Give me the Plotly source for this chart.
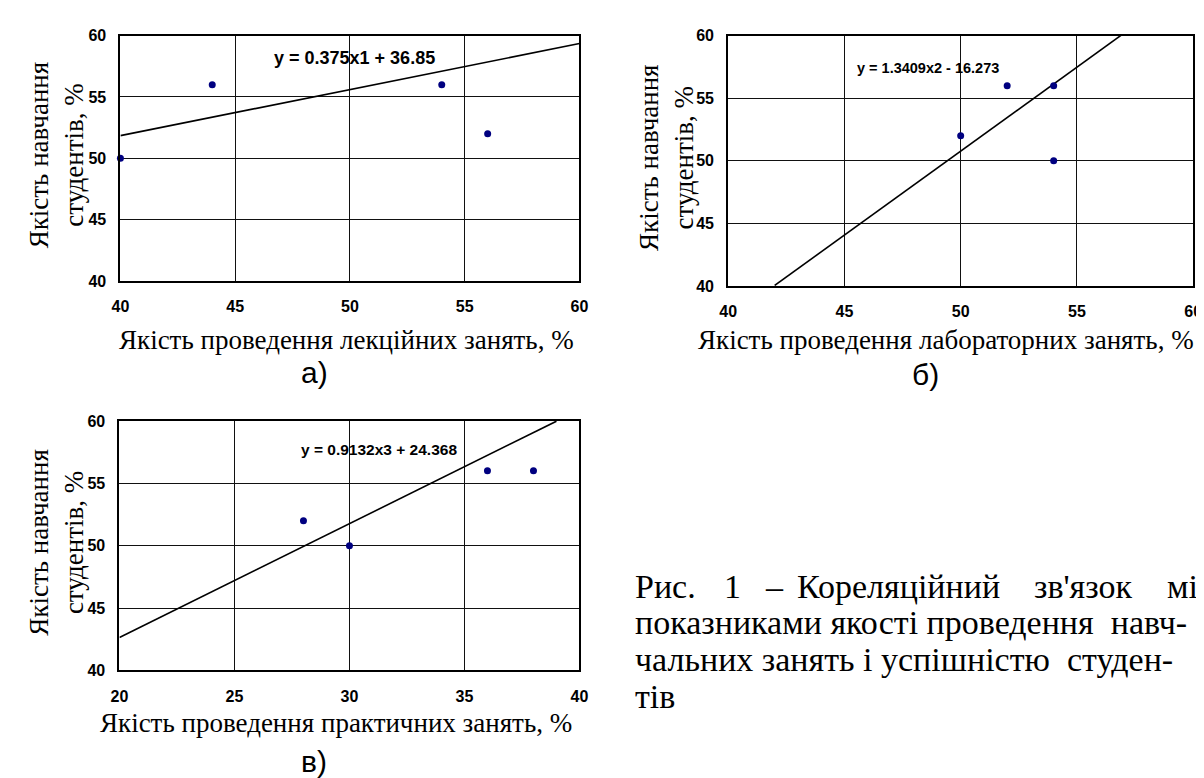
import plotly.graph_objects as go

W, H = 1204, 778

# ---- data ----
lect_x = [40, 44, 54, 56]
lect_y = [50, 56, 56, 52]
lab_x = [50, 52, 54, 54]
lab_y = [52, 56, 56, 50]
prac_x = [28, 30, 36, 38]
prac_y = [52, 50, 56, 56]

# trend lines (as printed on the chart)
lect_slope, lect_icpt = 0.375, 36.85
lab_slope, lab_icpt = 1.3409, -16.273
prac_slope, prac_icpt = 0.9132, 24.368
lect_line_x = [40, 60]
lab_line_x = [42, 57]
prac_line_x = [20, 39]

eq_a = "y = 0.375x1 + 36.85"
eq_b = "y = 1.3409x2 - 16.273"
eq_c = "y = 0.9132x3 + 24.368"

ytitle = "Якість навчання<br>студентів, %"
xtitle_a = "Якість проведення лекційних занять, %"
xtitle_b = "Якість проведення лабораторних занять, %"
xtitle_c = "Якість проведення практичних занять, %"

# caption: first (justified) line word by word, the rest line by line
caption_first_words = ["Рис.", "1", "–", "Кореляційний", "зв'язок", "між"]
caption_first_x = [625, 716, 757, 790, 1030, 1165]
caption_rest = [
    "показниками якості проведення  навч-",
    "чальних занять і успішністю  студен-",
    "тів",
]
caption_line_y = [583, 620.5, 658, 695.5]


def px(x):
    return x / W


def py(y):
    return 1 - y / H


fig = go.Figure()

panels = [
    dict(xs=lect_x, ys=lect_y, s=lect_slope, b=lect_icpt, lx=lect_line_x, ax="", xr=[40, 60],
         dom_x=[105, 571], dom_y=[20, 271], eq=eq_a, eqpos=(50.2, 58.2), eqsize=18,
         xt=xtitle_a, xt_pos=(335, 331), lab="а)", lab_pos=(302, 364), yt_pos=(40, 142)),
    dict(xs=lab_x, ys=lab_y, s=lab_slope, b=lab_icpt, lx=lab_line_x, ax="2", xr=[40, 60],
         dom_x=[722, 1194], dom_y=[20, 276], eq=eq_b, eqpos=(48.6, 57.4), eqsize=14.5,
         xt=xtitle_b, xt_pos=(943, 331), lab="б)", lab_pos=(922, 366), yt_pos=(660, 145)),
    dict(xs=prac_x, ys=prac_y, s=prac_slope, b=prac_icpt, lx=prac_line_x, ax="3", xr=[20, 40],
         dom_x=[104, 571], dom_y=[414, 669], eq=eq_c, eqpos=(31.3, 57.7), eqsize=15.5,
         xt=xtitle_c, xt_pos=(324, 723), lab="в)", lab_pos=(302, 762), yt_pos=(40, 538)),
]

tickfont = dict(family="Arial, Liberation Sans", size=16, color="black", weight="bold")
serif = "Times New Roman, Liberation Serif"
sans = "Arial, Liberation Sans"
cap_font = dict(family=serif, size=34, color="black")

for p in panels:
    ax = p["ax"]
    xa, ya = "x" + ax, "y" + ax
    ly = [p["s"] * v + p["b"] for v in p["lx"]]
    fig.add_trace(go.Scatter(x=p["lx"], y=ly, mode="lines", line=dict(color="black", width=1.6),
                             xaxis=xa, yaxis=ya, showlegend=False, hoverinfo="skip"))
    fig.add_trace(go.Scatter(x=p["xs"], y=p["ys"], mode="markers",
                             marker=dict(color="#000080", size=7),
                             xaxis=xa, yaxis=ya, showlegend=False, cliponaxis=False))
    axis_common = dict(showline=True, mirror=True, linecolor="black", linewidth=2,
                       showgrid=True, gridcolor="#111111", gridwidth=1, zeroline=False,
                       ticks="", tickfont=tickfont, dtick=5)
    fig.update_layout(**{
        "xaxis" + ax: dict(domain=[px(p["dom_x"][0]), px(p["dom_x"][1])], range=p["xr"],
                           anchor=ya, ticklabelstandoff=10, **axis_common),
        "yaxis" + ax: dict(domain=[py(p["dom_y"][1]), py(p["dom_y"][0])], range=[40, 60],
                           anchor=xa, ticklabelstandoff=9, **axis_common),
    })
    fig.add_annotation(x=p["eqpos"][0], y=p["eqpos"][1], xref=xa, yref=ya, text=p["eq"],
                       showarrow=False, xanchor="center", yanchor="middle",
                       font=dict(family=sans, size=p["eqsize"], color="black", weight="bold"))
    fig.add_annotation(x=px(p["xt_pos"][0]), y=py(p["xt_pos"][1]), xref="paper", yref="paper",
                       text=p["xt"], showarrow=False, xanchor="center", yanchor="middle",
                       font=dict(family=serif, size=27, color="black"))
    fig.add_annotation(x=px(p["lab_pos"][0]), y=py(p["lab_pos"][1]), xref="paper", yref="paper",
                       text=p["lab"], showarrow=False, xanchor="center", yanchor="middle",
                       font=dict(family=sans, size=30, color="black"))
    fig.add_annotation(x=px(p["yt_pos"][0]), y=py(p["yt_pos"][1]), xref="paper", yref="paper",
                       text=ytitle, textangle=-90, showarrow=False, xanchor="center", yanchor="middle",
                       font=dict(family=serif, size=27, color="black"))

for w, x in zip(caption_first_words, caption_first_x):
    fig.add_annotation(x=px(x), y=py(caption_line_y[0]), xref="paper", yref="paper",
                       text=w, xanchor="left", yanchor="middle", showarrow=False, font=cap_font)
for line, yl in zip(caption_rest, caption_line_y[1:]):
    fig.add_annotation(x=px(625), y=py(yl), xref="paper", yref="paper",
                       text=line, xanchor="left", yanchor="middle", showarrow=False, font=cap_font)

fig.update_layout(width=W, height=H, margin=dict(l=0, r=0, t=0, b=0),
                  paper_bgcolor="white", plot_bgcolor="white")

fig.write_html("out.html")
